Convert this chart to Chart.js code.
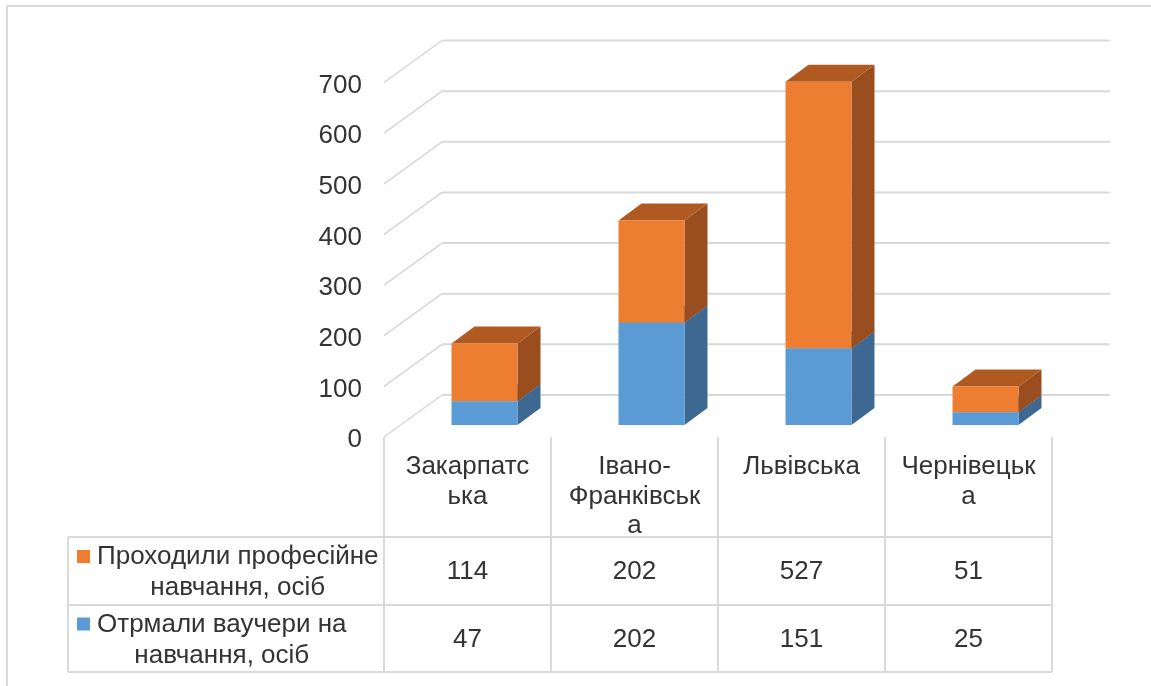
<!DOCTYPE html>
<html>
<head>
<meta charset="utf-8">
<script src="https://cdn.jsdelivr.net/npm/chart.js@4"></script>
<style>
  body { margin: 0; background: #fff; }
  canvas { display: block; }
</style>
</head>
<body>
<canvas id="chart" width="1151" height="686"></canvas>
<script>
const categories = [["Закарпатс", "ька"], ["Івано-", "Франківськ", "а"], ["Львівська"], ["Чернівецьк", "а"]];
const vouchers = [47, 202, 151, 25];
const training = [114, 202, 527, 51];
const seriesNames = [["Проходили професійне", "навчання, осіб"], ["Отрмали ваучери на", "навчання, осіб"]];
const yTicks = [0, 100, 200, 300, 400, 500, 600, 700];

const FONT = '26px "Liberation Sans", Arial, sans-serif';
const TEXT = "#333333";
const GRID = "#d9d9d9";

// offsets of the 3d planes relative to the bars' front face
const front = { dx: -17, dy: 12 };
const back = { dx: 41, dy: -30 };
const depth = { dx: 23, dy: -17 };

const faces = [
  { side: "#3c6892", top: "#4a7fb0" },
  { side: "#9a4d1e", top: "#b05a22" },
];

const chart3d = {
  id: "chart3d",
  beforeDatasetsDraw(chart) {
    const ctx = chart.ctx;
    const ys = chart.scales.y;
    const area = chart.chartArea;
    ctx.save();

    // outer frame
    ctx.strokeStyle = GRID;
    ctx.lineWidth = 2;
    ctx.beginPath();
    ctx.moveTo(7, 700);
    ctx.lineTo(7, 6);
    ctx.lineTo(1160, 6);
    ctx.stroke();

    // gridlines: oblique wall + back plane
    yTicks.forEach((v) => {
      const y = ys.getPixelForValue(v);
      ctx.strokeStyle = "#d6d6d6";
      ctx.lineWidth = 1.5;
      ctx.beginPath();
      ctx.moveTo(area.left + front.dx, y + front.dy);
      ctx.lineTo(area.left + back.dx, y + back.dy);
      ctx.stroke();
      ctx.strokeStyle = GRID;
      ctx.lineWidth = 2;
      ctx.beginPath();
      ctx.moveTo(area.left + back.dx, y + back.dy);
      ctx.lineTo(area.right + back.dx, y + back.dy);
      ctx.stroke();

      ctx.fillStyle = TEXT;
      ctx.font = FONT;
      ctx.textAlign = "right";
      ctx.textBaseline = "middle";
      ctx.fillText(String(v), 362, y + front.dy + 3);
    });

    // side and top faces of the bars
    chart.data.datasets.forEach((ds, di) => {
      chart.getDatasetMeta(di).data.forEach((el) => {
        const p = el.getProps(["x", "y", "base", "width"], true);
        const l = p.x - p.width / 2;
        const r = p.x + p.width / 2;
        ctx.fillStyle = faces[di].side;
        ctx.beginPath();
        ctx.moveTo(r, p.y);
        ctx.lineTo(r + depth.dx, p.y + depth.dy);
        ctx.lineTo(r + depth.dx, p.base + depth.dy);
        ctx.lineTo(r, p.base);
        ctx.closePath();
        ctx.fill();
        ctx.fillStyle = faces[di].top;
        ctx.beginPath();
        ctx.moveTo(l, p.y);
        ctx.lineTo(l + depth.dx, p.y + depth.dy);
        ctx.lineTo(r + depth.dx, p.y + depth.dy);
        ctx.lineTo(r, p.y);
        ctx.closePath();
        ctx.fill();
      });
    });
    ctx.restore();
  },
  afterDraw(chart) {
    const ctx = chart.ctx;
    const xs = chart.scales.x;
    const ys = chart.scales.y;
    const area = chart.chartArea;
    const top = ys.getPixelForValue(0) + front.dy;
    const colW = (area.right - area.left) / categories.length;
    const x0 = area.left + front.dx;
    const tableLeft = 68;
    const rows = [537, 605, 672];
    ctx.save();

    // table lines
    ctx.strokeStyle = GRID;
    ctx.lineWidth = 2;
    ctx.beginPath();
    rows.forEach((ry) => {
      ctx.moveTo(tableLeft, ry);
      ctx.lineTo(x0 + colW * categories.length, ry);
    });
    ctx.moveTo(tableLeft, rows[0]);
    ctx.lineTo(tableLeft, rows[2]);
    for (let i = 0; i <= categories.length; i++) {
      ctx.moveTo(x0 + colW * i, top);
      ctx.lineTo(x0 + colW * i, rows[2]);
    }
    ctx.stroke();

    ctx.font = FONT;
    ctx.fillStyle = TEXT;
    ctx.textAlign = "center";
    ctx.textBaseline = "middle";

    // category labels
    categories.forEach((lines, i) => {
      const cx = xs.getPixelForValue(i) + front.dx;
      lines.forEach((t, k) => ctx.fillText(t, cx, 467 + k * 29.5));
    });

    // value rows: training first, vouchers second
    const rowData = [training, vouchers];
    const rowColors = [chart.data.datasets[1].backgroundColor, chart.data.datasets[0].backgroundColor];
    rowData.forEach((vals, ri) => {
      const cy = (rows[ri] + rows[ri + 1]) / 2;
      vals.forEach((v, i) => {
        ctx.fillText(String(v), xs.getPixelForValue(i) + front.dx, cy + 1);
      });
      const names = seriesNames[ri];
      const w1 = ctx.measureText(names[0]).width;
      const c = 97 + w1 / 2;
      const y1 = cy - 14;
      ctx.fillStyle = rowColors[ri];
      ctx.fillRect(77, y1 - 7, 13, 13);
      ctx.fillStyle = TEXT;
      names.forEach((t, k) => ctx.fillText(t, c, y1 + k * 31));
    });
    ctx.restore();
  },
};

new Chart(document.getElementById("chart").getContext("2d"), {
  type: "bar",
  data: {
    labels: categories,
    datasets: [
      {
        label: seriesNames[1].join(" "),
        data: vouchers,
        backgroundColor: "#5b9bd5",
        barPercentage: 0.395,
        categoryPercentage: 1,
      },
      {
        label: seriesNames[0].join(" "),
        data: training,
        backgroundColor: "#ed7d31",
        barPercentage: 0.395,
        categoryPercentage: 1,
      },
    ],
  },
  plugins: [chart3d],
  options: {
    responsive: false,
    animation: false,
    devicePixelRatio: 1,
    layout: { padding: { left: 401, right: 82, top: 70.5, bottom: 261 } },
    plugins: { legend: { display: false }, tooltip: { enabled: false } },
    scales: {
      x: { display: false, stacked: true },
      y: { display: false, stacked: true, min: 0, max: 700, ticks: { stepSize: 100 } },
    },
  },
});
</script>
</body>
</html>
